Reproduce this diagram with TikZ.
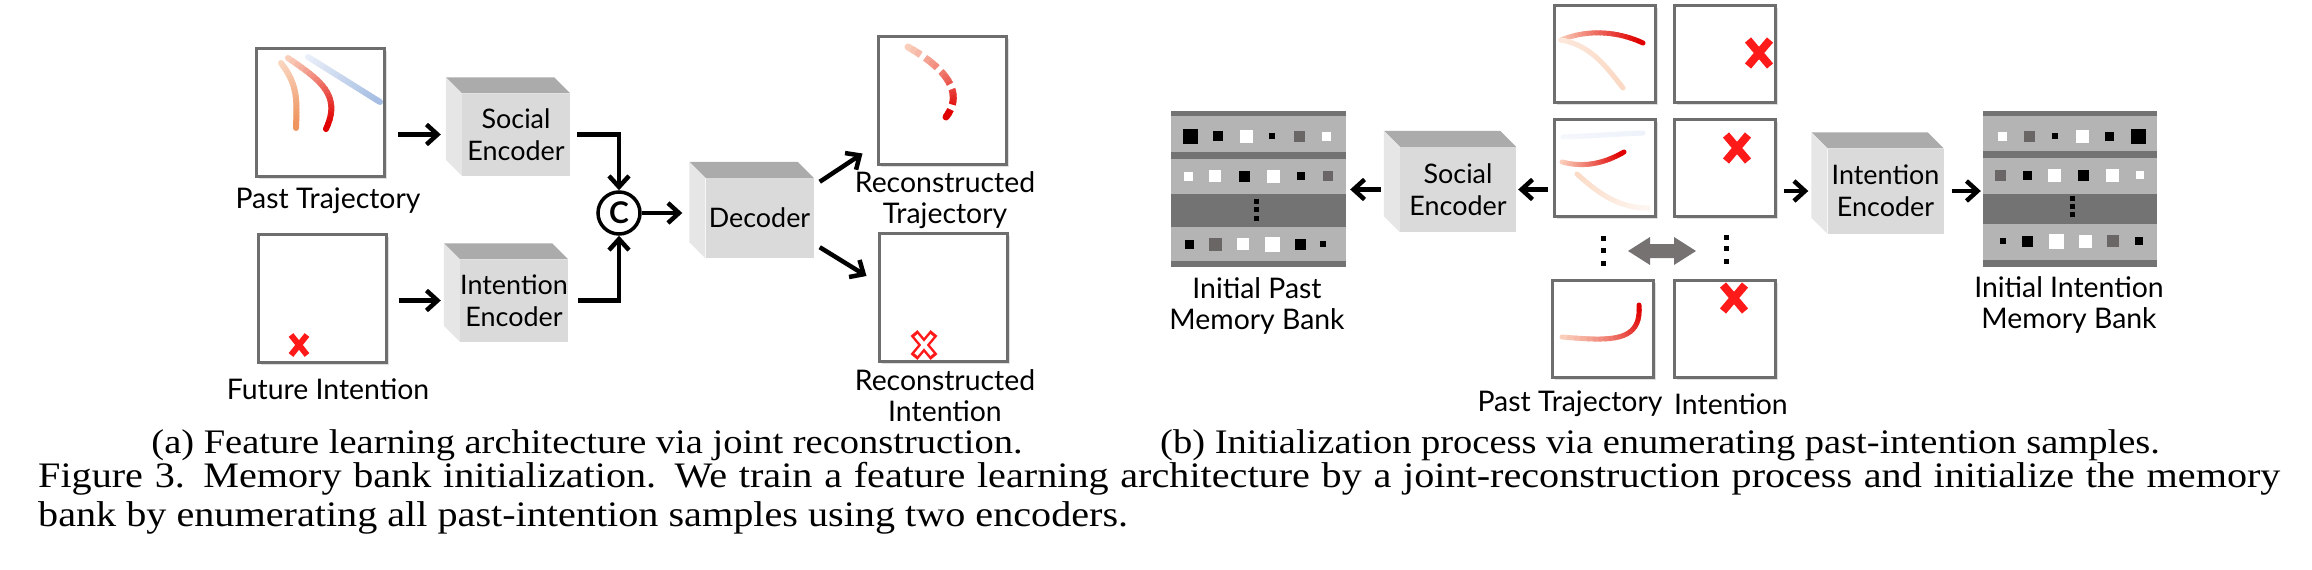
\documentclass[tikz,border=0pt]{standalone}
\usepackage{fontspec}
\setmainfont{Liberation Serif}[FakeStretch=1.12]
\newfontfamily\gillfont{Lato}
\usetikzlibrary{arrows.meta,shadows}

\definecolor{framecol}{HTML}{6E6E6E}
\definecolor{cubefront}{HTML}{DADADA}
\definecolor{cubetop}{HTML}{ABABAB}
\definecolor{cubeside}{HTML}{E6E6E6}
\definecolor{bankdark}{HTML}{737373}
\definecolor{banklight}{HTML}{B4B4B4}
\definecolor{bankgray}{HTML}{6B6666}
\definecolor{xred}{HTML}{FF1A1A}
\definecolor{trajred}{HTML}{E00000}
\definecolor{trajpeach}{HTML}{FBD9C4}
\definecolor{trajorange}{HTML}{EE9560}
\definecolor{trajblue}{HTML}{A6BEE3}
\definecolor{trajpale}{HTML}{EEF2FA}
\colorlet{peachlight}{trajpeach!60}
\colorlet{peachfaint}{trajpeach!25}
\colorlet{palelight}{trajpale!60}
\definecolor{arrowgray}{HTML}{777272}

\tikzset{
  frame/.style={draw=framecol,line width=3bp,fill=white,inner sep=0,
    drop shadow={shadow xshift=2.5bp,shadow yshift=-2.5bp,opacity=.25}},
  bigframe/.style={frame,minimum size=128bp},
  smallframe/.style={frame,minimum width=101bp,minimum height=97bp},
  cube/.style={fill=cubefront,inner sep=0,align=center,
    font=\gillfont\fontsize{27}{32}\selectfont},
  cubeA/.style={cube,minimum width=108bp,minimum height=82bp},
  cubeB/.style={cube,minimum width=116bp,minimum height=85bp},
  catnode/.style={circle,draw,line width=3.5bp,minimum size=42bp,inner sep=0,
    font=\gillfont\bfseries\fontsize{30}{30}\selectfont},
  label/.style={align=center,inner sep=0,font=\gillfont\fontsize{28.5}{31}\selectfont},
  capnode/.style={inner sep=0,font=\fontsize{36}{39}\selectfont},
  subcap/.style={capnode,anchor=base,font=\fontsize{34.5}{39}\selectfont},
  arr/.style={line width=4.5bp,-{Straight Barb[length=11bp,width=20bp]}},
  bank/.style={fill=bankdark,inner sep=0,minimum width=175bp,minimum height=156bp},
  traj/.style={line width=6bp,line cap=round},
  xmark/.style={draw=xred,line width=8bp}
}

% gradient stroke along a curve
\newcommand\fadecurve[7][]{%
  \foreach \k in {1,...,20}{%
    \pgfmathsetmacro\ta{(\k-1)/20}%
    \pgfmathsetmacro\tb{\k/20}%
    \pgfmathsetmacro\mixp{100*\k/20}%
    \path #4 .. controls #5 and #6 .. #7 coordinate[pos=\ta] (fa) coordinate[pos=\tb] (fb);
    \draw[traj,#1,color=#3!\mixp!#2] (fa) -- (fb);
  }}

\begin{document}
\begin{tikzpicture}
  \useasboundingbox (0bp,0bp) rectangle (2312bp,-570bp);

  % (a) joint reconstruction
  \node (ptA) at (320.5bp,-112.5bp) [bigframe] {};
  \node (fiA) at (322bp,-298bp) [bigframe] {};
  \node (rtA) at (942bp,-100bp) [bigframe] {};
  \node (riA) at (943bp,-297.5bp) [bigframe] {};
  \node (encS) at (516bp,-134.5bp) [cubeA] {Social\\Encoder};
  \node (encI) at (514bp,-300.5bp) [cubeA] {Intention\\Encoder};
  \node (dec) at (759.5bp,-218bp) [cubeA,minimum height=80bp] {Decoder};
  \node (cat) at (619bp,-213bp) [catnode] {C};
  \node (lptA) at (328bp,-201bp) [label] {Past Trajectory};
  \node (lfiA) at (328bp,-389bp) [label] {Future Intention};
  \node (lrtA) at (945bp,-200bp) [label] {Reconstructed\\Trajectory};
  \node (lriA) at (945bp,-396bp) [label] {Reconstructed\\Intention};

  % (b) enumeration
  \node (bankP) at (1258.5bp,-189bp) [bank] {};
  \node (bankI) at (2070bp,-188.5bp) [bank,minimum width=174bp] {};
  \node (encSB) at (1458bp,-189.5bp) [cubeB] {Social\\Encoder};
  \node (encIB) at (1885.5bp,-191bp) [cubeB] {Intention\\Encoder};
  \node (pt1) at (1604.5bp,-54bp) [smallframe] {};
  \node (pt2) at (1604.5bp,-167.5bp) [smallframe] {};
  \node (pt3) at (1603bp,-329bp) [smallframe] {};
  \node (in1) at (1724.5bp,-54bp) [smallframe] {};
  \node (in2) at (1724.5bp,-167.5bp) [smallframe] {};
  \node (in3) at (1724.5bp,-329bp) [smallframe] {};
  \node (lbankP) at (1257bp,-306bp) [label] {Initial Past\\Memory Bank};
  \node (lbankI) at (2069bp,-305bp) [label] {Initial Intention\\Memory Bank};
  \node (lptB) at (1570bp,-404bp) [label] {Past Trajectory};
  \node (linB) at (1731bp,-404bp) [label] {Intention};

  % cube faces
  \foreach \c in {encS,encI,dec,encSB,encIB}{
    \fill[cubetop] (\c.north west) -- ++(-16bp,16bp) -- ([shift={(-16bp,16bp)}]\c.north east) -- (\c.north east) -- cycle;
    \fill[cubeside] (\c.north west) -- ++(-16bp,16bp) -- ([shift={(-16bp,16bp)}]\c.south west) -- (\c.south west) -- cycle;
  }

  % trajectories
  \fadecurve{trajpeach}{trajorange}{(281bp,-63bp)}{(298bp,-85bp)}{(297bp,-100bp)}{(296bp,-128bp)}
  \fadecurve{trajpeach}{trajred}{(288bp,-58bp)}{(320bp,-80bp)}{(342bp,-95bp)}{(326bp,-129bp)}
  \fadecurve{trajpale}{trajblue}{(308bp,-57bp)}{(332bp,-72bp)}{(356bp,-87bp)}{(380bp,-102bp)}
  \fadecurve[line width=7bp]{trajpeach}{trajred}{(908bp,-47bp)}{(945bp,-68bp)}{(965bp,-92bp)}{(946bp,-117bp)}
  \draw[white,line width=10bp,dash pattern=on 5bp off 16bp,dash phase=-15bp] (908bp,-47bp) .. controls (945bp,-68bp) and (965bp,-92bp) .. (946bp,-117bp);
  \fadecurve[line width=5bp]{trajpeach}{trajred}{(1561bp,-40bp)}{(1585bp,-30bp)}{(1615bp,-30bp)}{(1643bp,-43bp)}
  \fadecurve[line width=5bp]{peachlight}{trajpeach}{(1561bp,-40bp)}{(1590bp,-45bp)}{(1605bp,-65bp)}{(1623bp,-88bp)}
  \fadecurve[line width=5bp]{palelight}{trajpale}{(1563bp,-137bp)}{(1590bp,-136bp)}{(1615bp,-134bp)}{(1643bp,-133bp)}
  \fadecurve[line width=5bp]{trajpeach}{trajred}{(1562bp,-162bp)}{(1585bp,-168bp)}{(1605bp,-163bp)}{(1624bp,-152bp)}
  \fadecurve[line width=5bp]{trajpeach}{peachfaint}{(1577bp,-174bp)}{(1600bp,-195bp)}{(1620bp,-208bp)}{(1648bp,-208bp)}
  \fadecurve[line width=5bp]{trajpeach}{trajred}{(1562bp,-337bp)}{(1610bp,-341bp)}{(1642bp,-343bp)}{(1639bp,-305bp)}

  % intention marks
  \coordinate (xfi) at (299bp,-345bp);
  \draw[xmark,line width=6bp] (xfi) +(-8bp,10bp) -- +(8bp,-10bp) (xfi) +(-8bp,-10bp) -- +(8bp,10bp);
  \coordinate (xri) at (924bp,-345bp);
  \draw[xmark,line width=9bp] (xri) +(-10bp,12bp) -- +(10bp,-12bp) (xri) +(-10bp,-12bp) -- +(10bp,12bp);
  \draw[white,line width=4bp] (xri) +(-8bp,9.6bp) -- +(8bp,-9.6bp) (xri) +(-8bp,-9.6bp) -- +(8bp,9.6bp);
  \foreach \xx/\yy in {1759bp/53bp,1737bp/148bp,1734bp/298bp}
    \draw[xmark] (\xx,-\yy) +(-11bp,13bp) -- +(11bp,-13bp) (\xx,-\yy) +(-11bp,-13bp) -- +(11bp,13bp);

  % memory banks
  \foreach \a/\b in {116bp/152bp,159bp/194bp,227bp/261bp}
    \fill[banklight] (1171bp,-\a) rectangle (1346bp,-\b);
  \foreach \a/\b in {116bp/151bp,158bp/194bp,224bp/260bp}
    \fill[banklight] (1983bp,-\a) rectangle (2157bp,-\b);
  \foreach \xx/\yy/\s/\c in {1190bp/136bp/15bp/black,1218bp/136bp/10bp/black,1246bp/136bp/13bp/white,
      1272bp/136bp/6bp/black,1299bp/136bp/11bp/bankgray,1326bp/136bp/9bp/white,
      1188bp/176bp/9bp/white,1215bp/176bp/12bp/white,1244bp/176bp/11bp/black,
      1273bp/176bp/13bp/white,1301bp/176bp/8bp/black,1328bp/176bp/10bp/bankgray,
      1189bp/244bp/9bp/black,1215bp/244bp/13bp/bankgray,1243bp/244bp/12bp/white,
      1272bp/244bp/15bp/white,1300bp/244bp/11bp/black,1323bp/244bp/6bp/black,
      2002bp/136bp/9bp/white,2029bp/136bp/11bp/bankgray,2055bp/136bp/6bp/black,
      2082bp/136bp/13bp/white,2109bp/136bp/9bp/black,2138bp/136bp/15bp/black,
      2000bp/175bp/11bp/bankgray,2027bp/175bp/9bp/black,2054bp/175bp/13bp/white,
      2083bp/175bp/11bp/black,2112bp/175bp/13bp/white,2140bp/175bp/8bp/white,
      2003bp/241bp/6bp/black,2027bp/241bp/11bp/black,2056bp/241bp/15bp/white,
      2085bp/241bp/13bp/white,2113bp/241bp/12bp/bankgray,2139bp/241bp/8bp/black}
    \fill[\c] (\xx,-\yy) ++({-0.5*\s},{0.5*\s}) rectangle ++(\s,-\s);

  % dots
  \foreach \xx/\yy in {1256bp/201bp,1256bp/209bp,1256bp/218bp,2072bp/198bp,2072bp/206bp,2072bp/214bp,
      1603bp/238bp,1603bp/250bp,1603bp/263bp,1726bp/237bp,1726bp/248bp,1726bp/261bp}
    \fill (\xx,-\yy) +(-2.5bp,-2.5bp) rectangle +(2.5bp,2.5bp);
  \fill[arrowgray] (1628bp,-251bp) -- (1650bp,-237bp) -- (1650bp,-244bp) -- (1674bp,-244bp) -- (1674bp,-237bp)
    -- (1696bp,-251bp) -- (1674bp,-265bp) -- (1674bp,-258bp) -- (1650bp,-258bp) -- (1650bp,-265bp) -- cycle;

  % connectors
  \draw[arr,shorten <=12bp,shorten >=21bp] (ptA.east |- encS.west) -- (encS.west);
  \draw[arr,shorten <=11bp,shorten >=19bp] (fiA.east |- encI.west) -- (encI.west);
  \draw[arr,shorten <=7bp] (encS.east) -| (cat);
  \draw[arr,shorten <=10bp] (encI.east) -| (cat);
  \draw[arr,shorten >=23bp] (cat) -- (cat -| dec.west);
  \draw[arr] ([shift={(6bp,-4bp)}]dec.north east) -- ([shift={(-14bp,12bp)}]rtA.south west);
  \draw[arr] ([shift={(6bp,11bp)}]dec.south east) -- ([shift={(-11bp,-44bp)}]riA.north west);
  \draw[arr,shorten <=5bp,shorten >=2bp] (pt2.west |- encSB.east) -- (encSB.east);
  \draw[arr,shorten <=19bp,shorten >=4bp] (encSB.west) -- (encSB.west -| bankP.east);
  \draw[arr,shorten <=7bp,shorten >=19bp] (in2.east |- encIB.west) -- (encIB.west);
  \draw[arr,shorten <=8bp,shorten >=2bp] (encIB.east) -- (encIB.east -| bankI.west);

  % captions
  \node (subA) at (587bp,-453bp) [subcap] {(a) Feature learning architecture via joint reconstruction.};
  \node (subB) at (1660bp,-453bp) [subcap] {(b) Initialization process via enumerating past-intention samples.};
  \node (capL1) at (38bp,-487bp) [capnode,anchor=base west] {\hbox to 2242bp{Figure 3. Memory bank initialization. We train a feature learning architecture by a joint-reconstruction process and initialize the memory}};
  \node (capL2) at (38bp,-526bp) [capnode,anchor=base west] {bank by enumerating all past-intention samples using two encoders.};
\end{tikzpicture}
\end{document}
